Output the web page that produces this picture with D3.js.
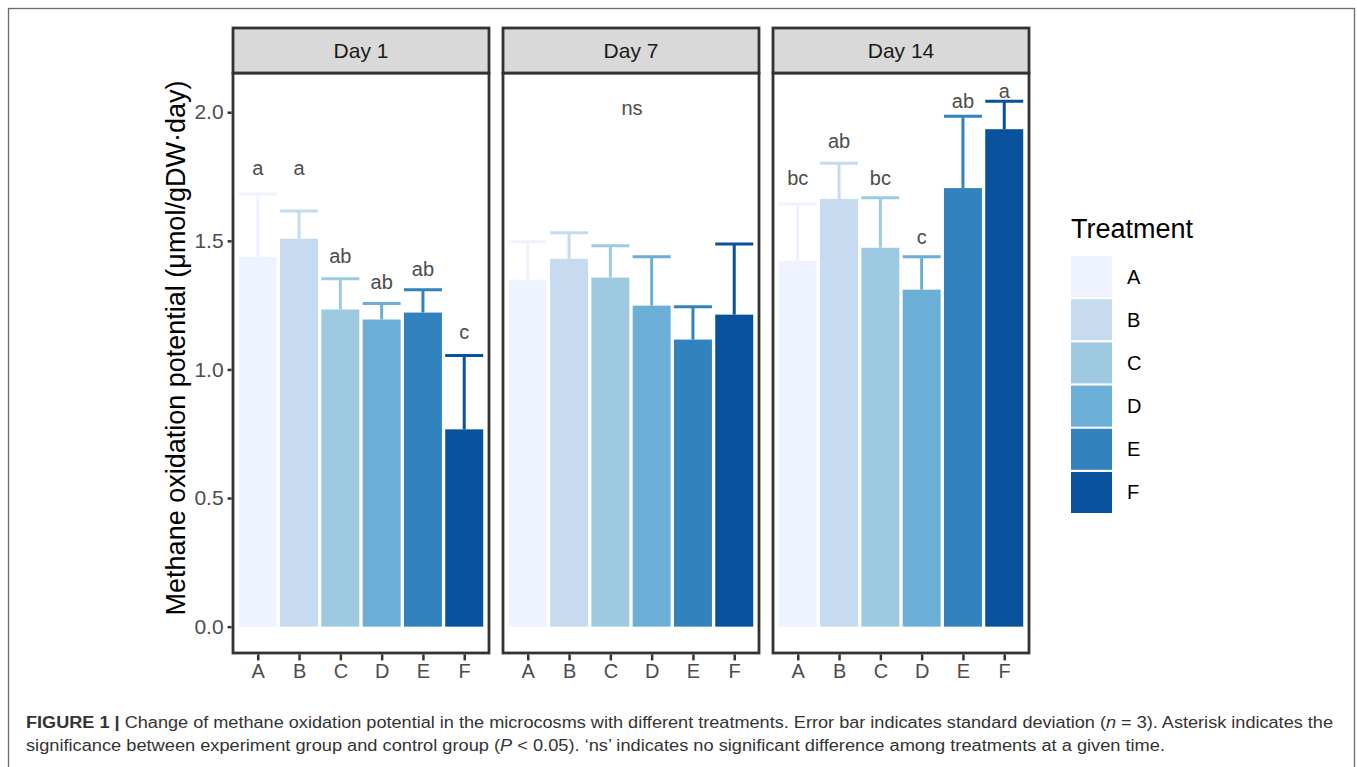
<!DOCTYPE html>
<html>
<head>
<meta charset="utf-8">
<script src="https://cdn.jsdelivr.net/npm/d3@7"></script>
<style>
  body { margin: 0; background: #fff; }
  svg text { font-family: "Liberation Sans", Arial, sans-serif; }
</style>
</head>
<body>
<div id="chart"></div>
<script>
// data
const days = ["Day 1", "Day 7", "Day 14"];
const treatments = ["A", "B", "C", "D", "E", "F"];
const colors = ["#EFF3FF", "#C6DBEF", "#9ECAE1", "#6BAED6", "#3182BD", "#08519C"];
const means = [
  [1.438, 1.508, 1.233, 1.194, 1.221, 0.767],
  [1.349, 1.430, 1.357, 1.248, 1.116, 1.213],
  [1.422, 1.663, 1.473, 1.310, 1.705, 1.934]
];
const sds = [
  [0.244, 0.108, 0.120, 0.062, 0.089, 0.287],
  [0.147, 0.101, 0.124, 0.190, 0.128, 0.275],
  [0.221, 0.139, 0.194, 0.128, 0.279, 0.109]
];
const letters = [
  ["a", "a", "ab", "ab", "ab", "c"],
  [],
  ["bc", "ab", "bc", "c", "ab", "a"]
];
const letterY = [
  [1.783, 1.783, 1.442, 1.341, 1.391, 1.147],
  [],
  [1.744, 1.888, 1.744, 1.516, 2.043, 2.081]
];
const panelNote = ["", "ns", ""];
const noteY = [0, 2.016, 0];
const yTicks = [0, 0.5, 1.0, 1.5, 2.0];

const W = 1357, H = 767;
const svg = d3.select("#chart").append("svg").attr("width", W).attr("height", H);

// outer figure frame
svg.append("rect")
  .attr("x", 8.5).attr("y", 8.5)
  .attr("width", 1346).attr("height", 800)
  .attr("fill", "none").attr("stroke", "#6b6b6b").attr("stroke-width", 1.3);

const plotTop = 73, plotBottom = 653, stripTop = 28;

const panelX = d3.scaleBand().domain(days).range([233, 1029]).paddingInner(14 / 270);
const y = d3.scaleLinear().domain([-0.1025, 2.1525]).range([plotBottom, plotTop]);

days.forEach((day, di) => {
  const x0 = panelX(day), pw = panelX.bandwidth();
  const x = d3.scalePoint().domain(treatments).range([x0, x0 + pw]).padding(0.6);
  const bw = x.step() * 0.92;
  const g = svg.append("g");

  // error bars (upper half only)
  treatments.forEach((t, i) => {
    const top = y(means[di][i] + sds[di][i]);
    g.append("line")
      .attr("x1", x(t)).attr("x2", x(t))
      .attr("y1", y(means[di][i])).attr("y2", top)
      .attr("stroke", colors[i]).attr("stroke-width", 3);
    g.append("line")
      .attr("x1", x(t) - bw / 2).attr("x2", x(t) + bw / 2)
      .attr("y1", top).attr("y2", top)
      .attr("stroke", colors[i]).attr("stroke-width", 3);
  });

  // bars
  g.selectAll(".bar")
    .data(treatments)
    .enter()
    .append("rect")
    .attr("x", t => x(t) - bw / 2)
    .attr("width", bw)
    .attr("y", (t, i) => y(means[di][i]))
    .attr("height", (t, i) => y(0) - y(means[di][i]))
    .attr("fill", (t, i) => colors[i]);

  // significance letters
  letters[di].forEach((l, i) => {
    g.append("text")
      .attr("x", x(treatments[i]))
      .attr("y", y(letterY[di][i]))
      .attr("dy", "0.35em")
      .attr("text-anchor", "middle")
      .attr("font-size", "20px")
      .attr("fill", "#4d4d4d")
      .text(l);
  });
  if (panelNote[di]) {
    g.append("text")
      .attr("x", x0 + pw / 2 + 1)
      .attr("y", y(noteY[di]))
      .attr("dy", "0.35em")
      .attr("text-anchor", "middle")
      .attr("font-size", "20px")
      .attr("fill", "#4d4d4d")
      .text(panelNote[di]);
  }

  // panel border
  g.append("rect")
    .attr("x", x0).attr("y", plotTop)
    .attr("width", pw).attr("height", plotBottom - plotTop)
    .attr("fill", "none").attr("stroke", "#333").attr("stroke-width", 2.8);

  // strip
  g.append("rect")
    .attr("x", x0).attr("y", stripTop)
    .attr("width", pw).attr("height", plotTop - stripTop)
    .attr("fill", "#d9d9d9").attr("stroke", "#333").attr("stroke-width", 2.8);
  g.append("text")
    .attr("x", x0 + pw / 2).attr("y", (stripTop + plotTop) / 2)
    .attr("dy", "0.35em")
    .attr("text-anchor", "middle")
    .attr("font-size", "21px")
    .attr("fill", "#1a1a1a")
    .text(day);

  // x axis
  const xa = svg.append("g")
    .attr("transform", "translate(0," + (plotBottom + 1.4) + ")")
    .call(d3.axisBottom(x).tickSize(6).tickPadding(3));
  xa.select(".domain").remove();
  xa.selectAll(".tick line").attr("stroke", "#333").attr("stroke-width", 2.5);
  xa.selectAll(".tick text").attr("font-size", "20px").attr("fill", "#4d4d4d")
    .attr("font-family", "Liberation Sans, Arial, sans-serif");

  // y axis, first panel only
  if (di === 0) {
    const ya = svg.append("g")
      .attr("transform", "translate(" + (x0 - 1.4) + ",0)")
      .call(d3.axisLeft(y).tickValues(yTicks).tickFormat(d3.format(".1f")).tickSize(4).tickPadding(4));
    ya.select(".domain").remove();
    ya.selectAll(".tick line").attr("stroke", "#333").attr("stroke-width", 2.5);
    ya.selectAll(".tick text").attr("font-size", "21px").attr("fill", "#4d4d4d")
      .attr("font-family", "Liberation Sans, Arial, sans-serif");
  }
});

// y axis title
svg.append("text")
  .attr("transform", "translate(176," + ((plotTop + plotBottom) / 2 - 15) + ") rotate(-90)")
  .attr("text-anchor", "middle")
  .attr("dy", "0.35em")
  .attr("font-size", "27px")
  .attr("fill", "#000")
  .text("Methane oxidation potential (\u03bcmol/gDW\u00b7day)");

// legend
const legend = svg.append("g").attr("transform", "translate(1071,0)");
legend.append("text")
  .attr("x", 0).attr("y", 238)
  .attr("font-size", "27px").attr("fill", "#000")
  .text("Treatment");
const ly = d3.scaleBand().domain(treatments).range([256, 513]).paddingInner(0.05);
treatments.forEach((t, i) => {
  legend.append("rect")
    .attr("x", 0).attr("y", ly(t))
    .attr("width", 41).attr("height", ly.bandwidth())
    .attr("fill", colors[i]);
  legend.append("text")
    .attr("x", 56).attr("y", ly(t) + ly.bandwidth() / 2)
    .attr("dy", "0.35em")
    .attr("font-size", "20px").attr("fill", "#000")
    .text(t);
});

// caption
const cap1 = svg.append("text")
  .attr("x", 26).attr("y", 728)
  .attr("font-size", "16px").attr("fill", "#333")
  .attr("textLength", 1307).attr("lengthAdjust", "spacingAndGlyphs");
cap1.append("tspan").attr("font-weight", "bold").text("FIGURE 1 | ");
cap1.append("tspan").text("Change of methane oxidation potential in the microcosms with different treatments. Error bar indicates standard deviation (");
cap1.append("tspan").attr("font-style", "italic").text("n");
cap1.append("tspan").text(" = 3). Asterisk indicates the");

const cap2 = svg.append("text")
  .attr("x", 26).attr("y", 751)
  .attr("font-size", "16px").attr("fill", "#333")
  .attr("textLength", 1139).attr("lengthAdjust", "spacingAndGlyphs");
cap2.append("tspan").text("significance between experiment group and control group (");
cap2.append("tspan").attr("font-style", "italic").text("P");
cap2.append("tspan").text(" < 0.05). \u2018ns\u2019 indicates no significant difference among treatments at a given time.");
</script>
</body>
</html>
